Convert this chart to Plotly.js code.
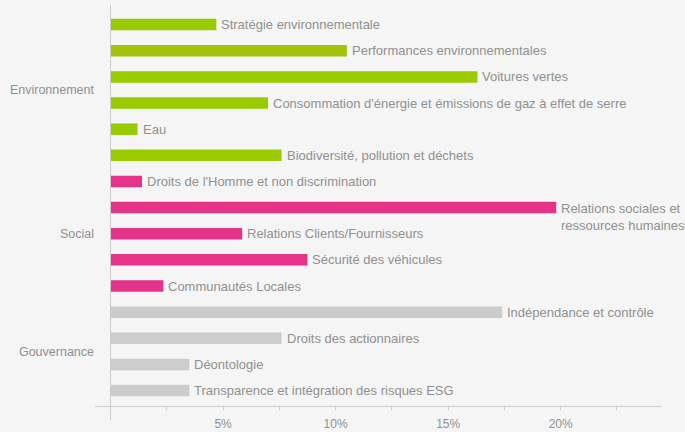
<!DOCTYPE html>
<html>
<head>
<meta charset="utf-8">
<script src="https://cdn.plot.ly/plotly-3.0.1.min.js"></script>
<style>
  html, body { margin: 0; padding: 0; background: #f5f5f5; }
  #chart { width: 685px; height: 432px; }
</style>
</head>
<body>
<div id="chart"></div>
<script>
// thèmes ESG, poids en %
const themes = [
    'Stratégie environnementale',
    'Performances environnementales',
    'Voitures vertes',
    "Consommation d'énergie et émissions de gaz à effet de serre",
    'Eau',
    'Biodiversité, pollution et déchets',
    "Droits de l'Homme et non discrimination",
    'Relations sociales et<br>ressources humaines',
    'Relations Clients/Fournisseurs',
    'Sécurité des véhicules',
    'Communautés Locales',
    'Indépendance et contrôle',
    'Droits des actionnaires',
    'Déontologie',
    'Transparence et intégration des risques ESG'
];
const weights = [4.7, 10.5, 16.3, 7.0, 1.2, 7.6, 1.4, 19.8, 5.85, 8.75, 2.35, 17.4, 7.6, 3.5, 3.5];
const barColors = [
    '#99cc00', '#a4c20c', '#99cc00', '#99cc00', '#99cc00', '#99cc00',
    '#e5338a', '#e5338a', '#e5338a', '#e5338a', '#e5338a',
    '#cccccc', '#cccccc', '#cccccc', '#cccccc'
];
const groups = ['Environnement', 'Social', 'Gouvernance'];
const groupCentres = [2.5, 8, 12.5];
const xTicks = [2.5, 5, 7.5, 10, 12.5, 15, 17.5, 20, 22.5];
const xTickText = ['', '5%', '', '10%', '', '15%', '', '20%', ''];

const idx = themes.map((t, i) => i);

const trace = {
    type: 'bar',
    orientation: 'h',
    x: weights,
    y: idx,
    marker: { color: barColors },
    hoverinfo: 'none',
    showlegend: false
};

const labels = themes.map((t, i) => ({
    x: weights[i],
    y: i,
    xref: 'x',
    yref: 'y',
    text: t,
    showarrow: false,
    xanchor: 'left',
    yanchor: t.includes('<br>') ? 'top' : 'middle',
    align: 'left',
    xshift: 3,
    yshift: t.includes('<br>') ? 9 : 0,
    font: { size: 13, color: '#909090' }
}));

const layout = {
    width: 685,
    height: 432,
    margin: { l: 95, r: 23, t: 5, b: 26 },
    paper_bgcolor: '#f5f5f5',
    plot_bgcolor: '#f5f5f5',
    font: { family: '"Liberation Sans", Arial, sans-serif', size: 13, color: '#909090' },
    bargap: 0.56,
    xaxis: {
        range: [-0.69, 24.5],
        tickvals: xTicks,
        ticktext: xTickText,
        ticks: 'outside',
        ticklen: 3,
        tickcolor: '#cccccc',
        ticklabelstandoff: 4,
        tickfont: { size: 12 },
        showgrid: false,
        zeroline: false,
        showline: true,
        linecolor: '#cccccc',
        fixedrange: true
    },
    yaxis: {
        range: [14.59, -0.75],
        tickvals: groupCentres,
        ticktext: groups,
        ticks: '',
        ticklabelstandoff: 0,
        tickfont: { size: 12.5 },
        showgrid: false,
        zeroline: false,
        showline: false,
        fixedrange: true
    },
    shapes: [{
        type: 'line',
        xref: 'x',
        yref: 'paper',
        x0: 0, x1: 0,
        y0: -0.035, y1: 1,
        line: { color: '#cccccc', width: 1 }
    }],
    annotations: labels
};

Plotly.newPlot('chart', [trace], layout, { displayModeBar: false, staticPlot: true });
</script>
</body>
</html>
